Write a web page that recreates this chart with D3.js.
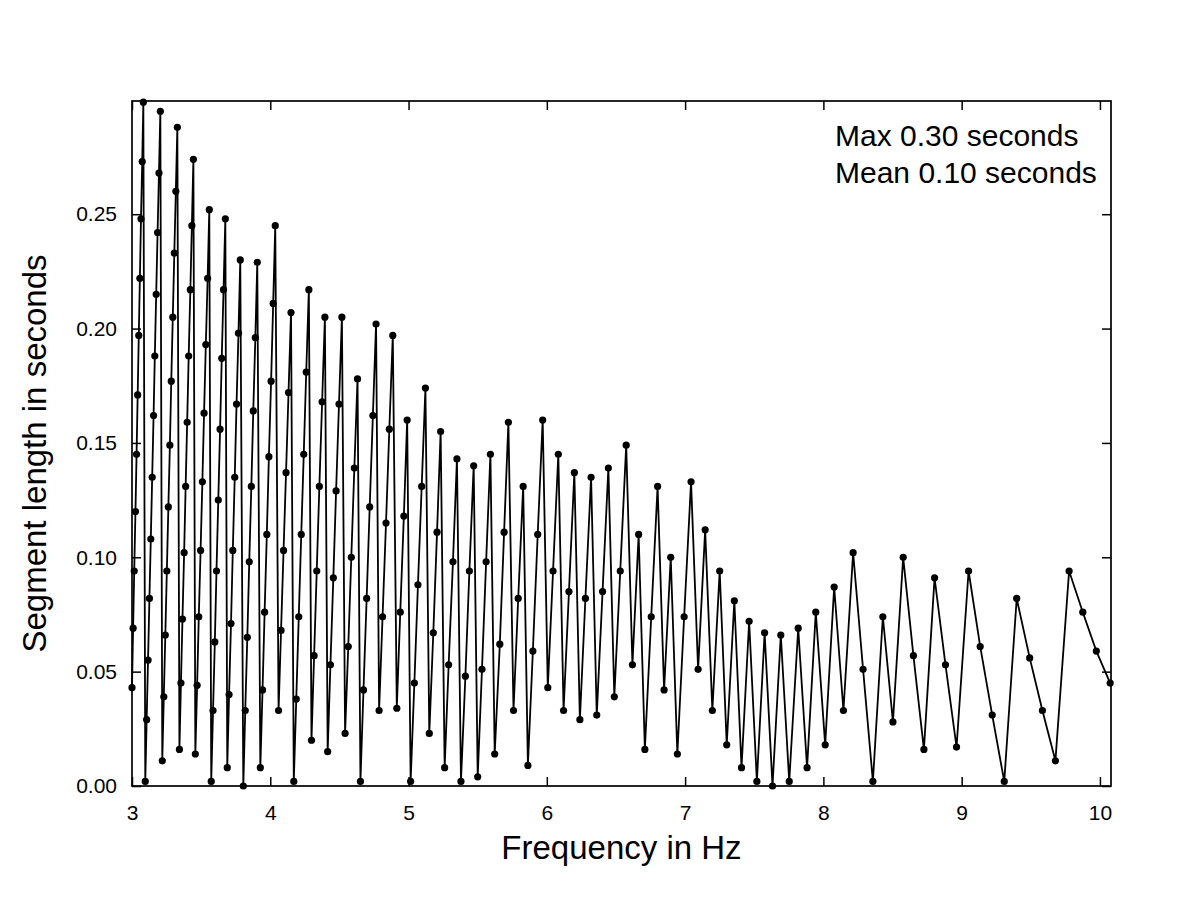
<!DOCTYPE html>
<html>
<head>
<meta charset="utf-8">
<script src="https://cdn.jsdelivr.net/npm/d3@7"></script>
<style>
  body { margin: 0; background: #fff; }
  svg text { font-family: "Liberation Sans", Arial, sans-serif; fill: #000; }
  .frame { fill: none; stroke: #000; stroke-width: 1.7; }
  .tick line { stroke: #000; stroke-width: 1.5; }
  .trace { fill: none; stroke: #000; stroke-width: 1.8; }
</style>
</head>
<body>
<div id="chart"></div>
<script>
// frequency of each sample (Hz)
const freqHz = [
  3.000, 3.008, 3.016, 3.025, 3.033, 3.041, 3.049, 3.057, 3.065, 3.074, 3.082,
  3.096, 3.106, 3.116, 3.126, 3.136, 3.146, 3.156, 3.165, 3.175, 3.185, 3.195, 3.205,
  3.219, 3.230, 3.241, 3.252, 3.263, 3.274, 3.284, 3.295, 3.306, 3.317, 3.328,
  3.343, 3.354, 3.365, 3.377, 3.388, 3.399, 3.410, 3.422, 3.433, 3.444,
  3.458, 3.471, 3.483, 3.496, 3.509, 3.521, 3.534, 3.547, 3.559,
  3.573, 3.586, 3.599, 3.611, 3.624, 3.637, 3.649, 3.662, 3.675,
  3.689, 3.702, 3.716, 3.729, 3.743, 3.756, 3.770, 3.783,
  3.805, 3.819, 3.834, 3.848, 3.863, 3.877, 3.892, 3.906,
  3.928, 3.944, 3.959, 3.975, 3.990, 4.006, 4.021, 4.036,
  4.060, 4.078, 4.096, 4.114, 4.132, 4.150,
  4.170, 4.188, 4.206, 4.224, 4.242, 4.260, 4.279,
  4.298, 4.317, 4.336, 4.355, 4.375, 4.395,
  4.415, 4.435, 4.456, 4.476, 4.497, 4.518,
  4.541, 4.564, 4.586, 4.608, 4.631,
  4.652, 4.674, 4.697, 4.719, 4.742, 4.765,
  4.787, 4.812, 4.837, 4.861, 4.886,
  4.915, 4.940, 4.966, 4.990,
  5.015, 5.042, 5.068, 5.095, 5.122,
  5.150, 5.179, 5.206, 5.232,
  5.261, 5.290, 5.321, 5.350,
  5.379, 5.411, 5.440, 5.471,
  5.500, 5.531, 5.561, 5.592,
  5.623, 5.660, 5.691, 5.722,
  5.759, 5.793, 5.829,
  5.863, 5.899, 5.934, 5.970,
  6.007, 6.045, 6.083,
  6.121, 6.160, 6.199,
  6.239, 6.279, 6.320,
  6.361, 6.403, 6.445,
  6.488, 6.531, 6.574,
  6.619, 6.664, 6.709, 6.755, 6.801, 6.848, 6.896, 6.944, 6.993, 7.043, 7.094, 7.145, 7.197, 7.250,
  7.301, 7.356, 7.408, 7.463, 7.519, 7.575, 7.632, 7.692, 7.753, 7.818, 7.882, 7.945,
  8.013, 8.078, 8.145, 8.215, 8.287, 8.358, 8.430, 8.503, 8.577, 8.651, 8.727, 8.804, 8.883, 8.963,
  9.050, 9.134, 9.221, 9.308, 9.398, 9.492, 9.584, 9.678, 9.777, 9.876, 9.974, 10.074
];

// segment length (s) for each sample, same order
const segLen = [
  0.043, 0.069, 0.094, 0.120, 0.145, 0.171, 0.197, 0.222, 0.248, 0.273, 0.299,
  0.002, 0.029, 0.055, 0.082, 0.108, 0.135, 0.162, 0.188, 0.215, 0.242, 0.268, 0.295,
  0.011, 0.039, 0.066, 0.094, 0.122, 0.149, 0.177, 0.205, 0.233, 0.260, 0.288,
  0.016, 0.045, 0.073, 0.102, 0.131, 0.159, 0.188, 0.217, 0.245, 0.274,
  0.014, 0.044, 0.074, 0.103, 0.133, 0.163, 0.193, 0.222, 0.252,
  0.002, 0.033, 0.063, 0.094, 0.125, 0.156, 0.187, 0.217, 0.248,
  0.008, 0.040, 0.071, 0.103, 0.135, 0.167, 0.198, 0.230,
  0.000, 0.033, 0.065, 0.098, 0.131, 0.164, 0.196, 0.229,
  0.008, 0.042, 0.076, 0.110, 0.144, 0.177, 0.211, 0.245,
  0.033, 0.068, 0.103, 0.137, 0.172, 0.207,
  0.002, 0.038, 0.074, 0.110, 0.145, 0.181, 0.217,
  0.020, 0.057, 0.094, 0.131, 0.168, 0.205,
  0.015, 0.053, 0.091, 0.129, 0.167, 0.205,
  0.023, 0.061, 0.100, 0.139, 0.178,
  0.002, 0.042, 0.082, 0.122, 0.162, 0.202,
  0.033, 0.074, 0.115, 0.156, 0.197,
  0.034, 0.076, 0.118, 0.160,
  0.002, 0.045, 0.088, 0.131, 0.174,
  0.023, 0.067, 0.111, 0.155,
  0.008, 0.053, 0.098, 0.143,
  0.002, 0.048, 0.094, 0.140,
  0.004, 0.051, 0.098, 0.145,
  0.014, 0.062, 0.111, 0.159,
  0.033, 0.082, 0.131,
  0.009, 0.059, 0.110, 0.160,
  0.043, 0.094, 0.145,
  0.033, 0.085, 0.137,
  0.029, 0.082, 0.135,
  0.031, 0.085, 0.139,
  0.039, 0.094, 0.149,
  0.053, 0.110, 0.016, 0.074, 0.131, 0.042, 0.100, 0.014, 0.074, 0.133, 0.051, 0.112, 0.033, 0.094,
  0.018, 0.081, 0.008, 0.072, 0.002, 0.067, 0.000, 0.066, 0.002, 0.069, 0.008, 0.076,
  0.018, 0.087, 0.033, 0.102, 0.051, 0.002, 0.074, 0.028, 0.100, 0.057, 0.016, 0.091, 0.053, 0.017,
  0.094, 0.061, 0.031, 0.002, 0.082, 0.056, 0.033, 0.011, 0.094, 0.076, 0.059, 0.045
];

const xTicks = [3, 4, 5, 6, 7, 8, 9, 10];
const yTicks = [0, 0.05, 0.10, 0.15, 0.20, 0.25];
const notes = ["Max 0.30 seconds", "Mean 0.10 seconds"];
const xTitle = "Frequency in Hz";
const yTitle = "Segment length in seconds";

const width = 1200, height = 900;
const margin = { top: 101, right: 89, bottom: 114, left: 132 };
const plotW = width - margin.left - margin.right;
const plotH = height - margin.top - margin.bottom;

const svg = d3.select('#chart')
    .append('svg')
    .attr('width', width)
    .attr('height', height);

const g = svg.append('g')
    .attr('transform', `translate(${margin.left},${margin.top})`);

const x = d3.scaleLinear().domain([3, 10.08]).range([0, plotW]);
const y = d3.scaleLinear().domain([0, 0.2995]).range([plotH, 0]);

// axes: ticks point into the plot on all four sides
const tickLen = 9;
const fmt = d3.format('.2f');

g.append('g')
    .attr('transform', `translate(0,${plotH})`)
    .call(d3.axisBottom(x).tickValues(xTicks).tickSize(-tickLen).tickPadding(19).tickFormat(d3.format('d')));
g.append('g')
    .call(d3.axisLeft(y).tickValues(yTicks).tickSize(-tickLen).tickPadding(15).tickFormat(fmt));
g.append('g')
    .call(d3.axisTop(x).tickValues(xTicks).tickSize(-tickLen).tickFormat(''));
g.append('g')
    .attr('transform', `translate(${plotW},0)`)
    .call(d3.axisRight(y).tickValues(yTicks).tickSize(-tickLen).tickFormat(''));

g.selectAll('.domain').remove();
g.selectAll('.tick text')
    .style('font-size', '21px')
    .style('font-family', '"Liberation Sans", Arial, sans-serif');

g.append('rect')
    .attr('class', 'frame')
    .attr('width', plotW)
    .attr('height', plotH);

// data trace
const pts = d3.zip(freqHz, segLen);
const line = d3.line().x(d => x(d[0])).y(d => y(d[1]));

g.append('path')
    .attr('class', 'trace')
    .attr('d', line(pts));

g.selectAll('circle.pt')
    .data(pts)
    .join('circle')
    .attr('class', 'pt')
    .attr('cx', d => x(d[0]))
    .attr('cy', d => y(d[1]))
    .attr('r', 3.6)
    .attr('fill', '#000');

// annotation in the top right corner
g.selectAll('text.note')
    .data(notes)
    .join('text')
    .attr('class', 'note')
    .attr('x', 703)
    .attr('y', (d, i) => 45 + i * 37)
    .style('font-size', '30px')
    .text(d => d);

// axis titles
svg.append('text')
    .attr('x', margin.left + plotW / 2)
    .attr('y', 859)
    .attr('text-anchor', 'middle')
    .style('font-size', '33px')
    .text(xTitle);

svg.append('text')
    .attr('transform', `translate(46,${margin.top + plotH / 2 + 10}) rotate(-90)`)
    .attr('text-anchor', 'middle')
    .style('font-size', '33px')
    .text(yTitle);
</script>
</body>
</html>
